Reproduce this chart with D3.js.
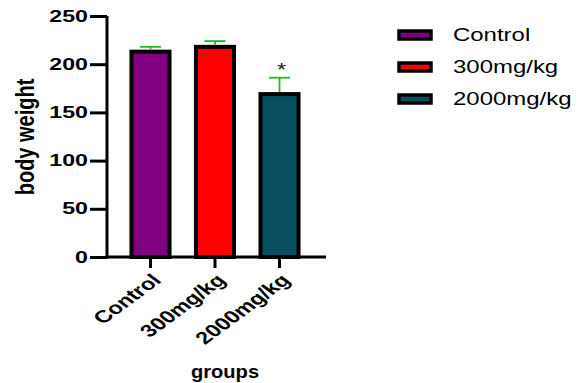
<!DOCTYPE html>
<html>
<head>
<meta charset="UTF-8">
<script src="https://cdn.jsdelivr.net/npm/d3@7/dist/d3.min.js"></script>
<style>
  body{ margin:0; background:white; }
  text{ font-family: "Liberation Sans", Arial, sans-serif; }
</style>
</head>
<body>
<svg id="chart" width="582" height="383"></svg>
<script>
    // data
    const groups = ['Control', '300mg/kg', '2000mg/kg'];
    const means = [213, 218, 169];
    const errs = [5, 6, 17];
    const colors = ['#800080', '#ff0000', '#074f5e'];
    const signif = ['', '', '*'];
    const yTicks = [0, 50, 100, 150, 200, 250];

    const svg = d3.select('#chart');
    const FONT = '"Liberation Sans", Arial, sans-serif';
    // the original picture is stretched sideways, so texts get a scaleX
    const SX = 1.45;

    const y = d3.scaleLinear().domain([0, 250]).range([257, 16]);
    const x = d3.scaleBand().domain(groups).range([118.25, 311.75]).paddingInner(0.41).paddingOuter(0.205);

    // bars
    svg.append('g').selectAll('rect').data(groups).join('rect')
        .attr('x', d => x(d))
        .attr('y', (d, i) => y(means[i]))
        .attr('width', x.bandwidth())
        .attr('height', (d, i) => y(0) - y(means[i]))
        .attr('fill', (d, i) => colors[i])
        .attr('stroke', 'black')
        .attr('stroke-width', 4);

    // error bars (upper only)
    const eb = svg.append('g').attr('stroke', '#22bb22').attr('stroke-width', 1.8);
    groups.forEach((g, i) => {
        const cx = x(g) + x.bandwidth() / 2;
        eb.append('line').attr('x1', cx).attr('x2', cx)
            .attr('y1', y(means[i]) - 2).attr('y2', y(means[i] + errs[i]));
        eb.append('line').attr('x1', cx - 10.5).attr('x2', cx + 10.5)
            .attr('y1', y(means[i] + errs[i])).attr('y2', y(means[i] + errs[i]));
        if (signif[i]) {
            svg.append('text')
                .attr('transform', 'translate(' + (cx + 2) + ',' + (y(means[i] + errs[i]) - 2) + ') scale(1.3,1)')
                .attr('text-anchor', 'middle').attr('font-size', '18px').attr('fill', '#222')
                .text(signif[i]);
        }
    });

    // y axis
    const yAxis = svg.append('g').attr('transform', 'translate(107,0)')
        .call(d3.axisLeft(y).tickValues(yTicks).tickSize(17).tickPadding(2));
    yAxis.select('.domain').attr('stroke-width', 3).attr('d', 'M0,' + y(250) + 'V' + (y(0) + 1.5));
    yAxis.selectAll('.tick line').attr('stroke-width', 3);
    yAxis.selectAll('.tick text').attr('font-size', '16px').attr('font-weight', 'bold')
        .attr('fill', 'black').attr('font-family', FONT)
        .attr('x', 0).attr('transform', 'translate(-19,0) scale(' + SX + ',1)');

    // x axis
    const xAxis = svg.append('g').attr('transform', 'translate(0,' + y(0) + ')')
        .call(d3.axisBottom(x).tickSize(11).tickPadding(6));
    xAxis.select('.domain').attr('stroke-width', 3).attr('d', 'M105.5,0H326');
    xAxis.selectAll('.tick line').attr('stroke-width', 3);
    xAxis.selectAll('.tick text')
        .attr('font-size', '17.5px').attr('font-weight', 'bold').attr('fill', 'black')
        .attr('font-family', FONT)
        .attr('text-anchor', 'end')
        .attr('y', 0).attr('dy', '0.35em')
        .attr('transform', 'translate(6,20) scale(1.35,1) rotate(-45)');

    // axis titles
    svg.append('text').attr('transform', 'translate(25,137) scale(1.25,1) rotate(-90)')
        .attr('text-anchor', 'middle').attr('dy', '0.35em')
        .attr('font-size', '20px').attr('font-weight', 'bold')
        .text('body weight');
    svg.append('text').attr('transform', 'translate(225,378) scale(1.06,1)')
        .attr('text-anchor', 'middle').attr('font-size', '19px').attr('font-weight', 'bold')
        .text('groups');

    // legend
    const leg = svg.append('g').selectAll('g').data(groups).join('g')
        .attr('transform', (d, i) => 'translate(399,' + (31 + i * 32) + ')');
    leg.append('rect').attr('width', 32).attr('height', 8)
        .attr('fill', (d, i) => colors[i]).attr('stroke', 'black').attr('stroke-width', 3.5);
    leg.append('text').attr('transform', 'translate(54,10) scale(1.37,1)')
        .attr('font-size', '17.5px')
        .text(d => d);
</script>
</body>
</html>
